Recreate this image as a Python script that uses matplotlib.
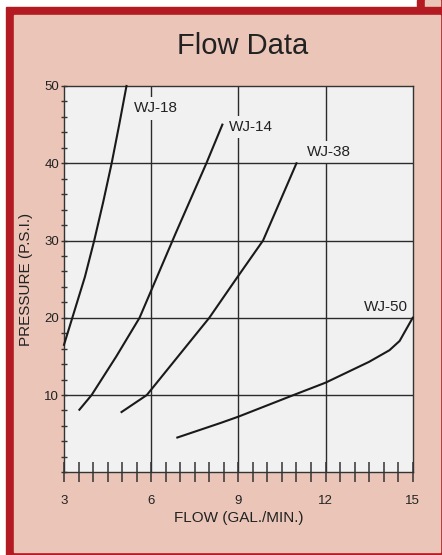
import matplotlib
matplotlib.use('Agg')
import matplotlib.pyplot as plt
from matplotlib.patches import Rectangle
from matplotlib.ticker import MultipleLocator

plt.rcParams['font.family'] = ['Liberation Sans Narrow', 'Liberation Sans', 'DejaVu Sans']

# curvas (flujo en gal/min, presion en psi)
wj18_x = [3.0, 3.45, 3.72, 4.04, 4.35, 4.64, 4.9, 5.15]
wj18_y = [16.5, 22, 25.3, 30, 35, 40, 45, 50]
wj14_x = [3.53, 3.95, 4.8, 5.6, 6.85, 7.9, 8.45]
wj14_y = [8.1, 10, 15, 20, 31, 40, 45]
wj38_x = [4.98, 5.85, 8.0, 8.9, 9.85, 11.0]
wj38_y = [7.8, 10, 20, 24.9, 30, 40]
wj50_x = [6.9, 8.4, 9.0, 10.9, 12.0, 13.5, 14.2, 14.55, 15.0]
wj50_y = [4.5, 6.4, 7.2, 10, 11.6, 14.3, 15.8, 17, 20]

nombres = ['WJ-18', 'WJ-14', 'WJ-38', 'WJ-50']
etiq_x = [5.4, 8.66, 11.36, 14.82]
etiq_y = [47.1, 44.7, 41.5, 21.45]
etiq_ha = ['left', 'left', 'left', 'right']

x_ticks = [3, 6, 9, 12, 15]
y_ticks = [10, 20, 30, 40, 50]

rojo = '#b31a22'
rosa = '#ebc6b8'
fondo = '#f1f1f1'
oscuro = '#2b2b2b'

fig = plt.figure(figsize=(4.42, 5.55), dpi=100)
fig.patch.set_facecolor('white')

# marco rojo y fondo rosa
W, H = 442.0, 555.0
def caja(x0, y0, x1, y1, color):
    fig.patches.append(Rectangle((x0 / W, 1 - y1 / H), (x1 - x0) / W, (y1 - y0) / H,
                                 transform=fig.transFigure, color=color, zorder=-10))
caja(417, 0, 442, 20, rojo)
caja(425, 0, 440, 20, rosa)
caja(6, 7.3, 442, 555, rojo)
caja(14, 15, 440, 552, rosa)

ax = fig.add_axes([64 / W, 1 - 472.3 / H, (412.7 - 64) / W, (472.3 - 86) / H])
ax.set_facecolor(fondo)
ax.set_xlim(3, 15)
ax.set_ylim(0, 50)

# rejilla
for xv in [6, 9, 12]:
    ax.axvline(xv, color=oscuro, lw=1.0, zorder=1)
for yv in [10, 20, 30, 40]:
    ax.axhline(yv, color=oscuro, lw=1.0, zorder=3)

for xs, ys in [(wj18_x, wj18_y), (wj14_x, wj14_y), (wj38_x, wj38_y), (wj50_x, wj50_y)]:
    ax.plot(xs, ys, color='#1a1a1a', lw=1.5, zorder=4, clip_on=False)

for n, tx, ty, ha in zip(nombres, etiq_x, etiq_y, etiq_ha):
    ax.text(tx, ty, n, fontsize=11, color='#222222', ha=ha, va='center', zorder=2,
            bbox=dict(facecolor=fondo, edgecolor='none', pad=3))

ax.set_xticks(x_ticks)
ax.set_yticks(y_ticks)
ax.xaxis.set_minor_locator(MultipleLocator(0.5))
ax.yaxis.set_minor_locator(MultipleLocator(2))
ax.tick_params(axis='x', which='both', direction='inout', length=14.5, width=1.1,
               color='#333333', pad=9, labelsize=9.5, labelcolor='#222222')
ax.tick_params(axis='y', which='both', direction='inout', length=4, width=1.0,
               color='#333333', pad=1.5, labelsize=9.5, labelcolor='#222222')
for s in ax.spines.values():
    s.set_color('#333333')
    s.set_linewidth(1.0)

ax.set_xlabel('FLOW (GAL./MIN.)', fontsize=11, color='#222222', labelpad=3)
ax.set_ylabel('PRESSURE (P.S.I.)', fontsize=11, color='#222222', labelpad=8)

fig.text(242.5 / W, 1 - 54 / H, 'Flow Data', fontsize=21, color='#222222',
         ha='center', va='baseline')

fig.savefig('out.png', dpi=100)
